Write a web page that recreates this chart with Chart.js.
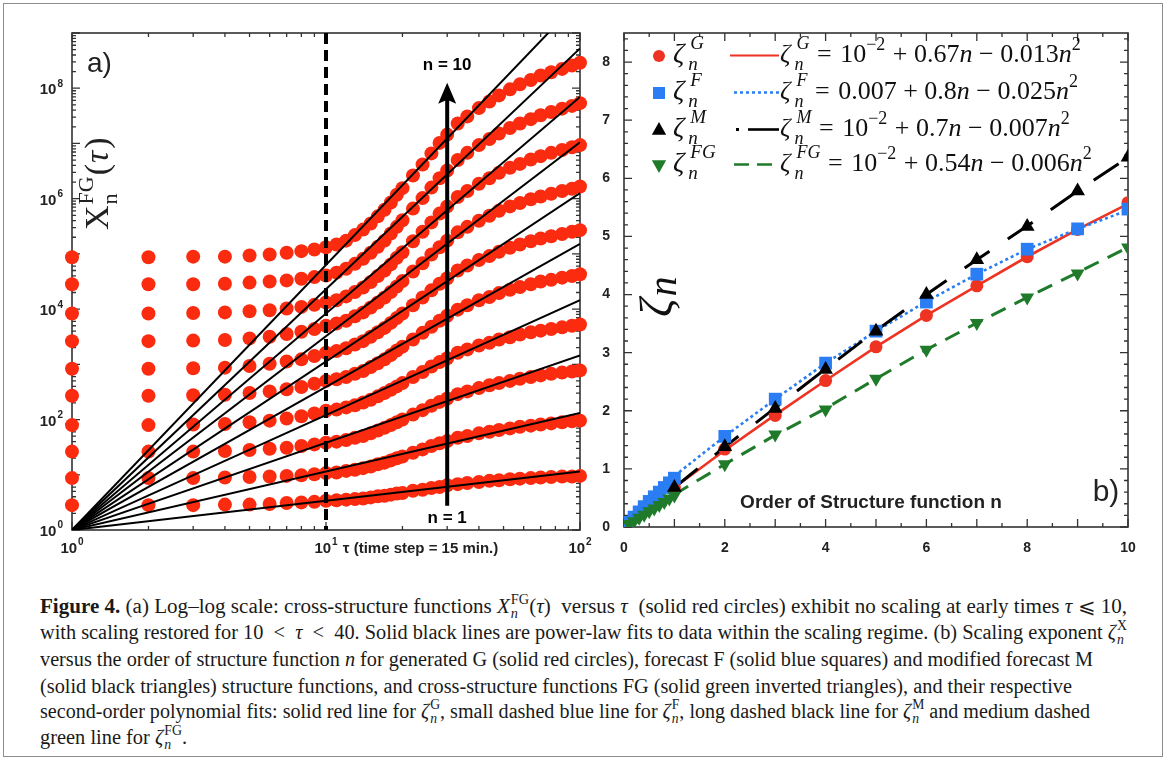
<!DOCTYPE html>
<html>
<head>
<meta charset="utf-8">
<script src="https://cdn.jsdelivr.net/npm/chart.js@4.4.0/dist/chart.umd.min.js"></script>
<style>
  html, body { margin: 0; padding: 0; background: #fff; }
  #fig { position: relative; width: 1168px; height: 762px; overflow: hidden; }
  #frame { position: absolute; left: 3px; top: 3px; width: 1158px; height: 752px; border: 1px solid #8c8c8c; }
  #boxA { position: absolute; left: 0; top: 0; width: 600px; height: 570px; }
  #boxB { position: absolute; left: 600px; top: 0; width: 568px; height: 570px; }
  .cl { position: absolute; left: 40px; white-space: nowrap; width: max-content; transform-origin: 0 50%;
        font-family: "Liberation Serif", "DejaVu Serif", serif; font-size: 20px; line-height: 26px; color: #1a1a1a; }
  .ss { display: inline-block; vertical-align: -0.36em; font-size: 0.68em; line-height: 1.02em; text-align: left; margin-left: 1px; }
  .ss > span { display: block; }
</style>
</head>
<body>
<div id="fig">
  <div id="frame"></div>
  <div id="boxA"><canvas id="chartA" width="600" height="570"></canvas></div>
  <div id="boxB"><canvas id="chartB" width="568" height="570"></canvas></div>

  <div class="cl" style="top:593px"><b>Figure 4.</b> (a) Log–log scale: cross-structure functions <i>X</i><span class="ss"><span>FG</span><span><i>n</i></span></span>(<i>τ</i>)&nbsp; versus <i>τ</i>&nbsp; (solid red circles) exhibit no scaling at early times <i>τ</i> ⩽ 10,</div>
  <div class="cl" style="top:619px">with scaling restored for 10 &nbsp;&lt;&nbsp; <i>τ</i> &nbsp;&lt;&nbsp; 40. Solid black lines are power-law fits to data within the scaling regime. (b) Scaling exponent <i>ζ</i><span class="ss"><span>X</span><span><i>n</i></span></span></div>
  <div class="cl" style="top:646px">versus the order of structure function <i>n</i> for generated G (solid red circles), forecast F (solid blue squares) and modified forecast M</div>
  <div class="cl" style="top:673px">(solid black triangles) structure functions, and cross-structure functions FG (solid green inverted triangles), and their respective</div>
  <div class="cl" style="top:698px">second-order polynomial fits: solid red line for <i>ζ</i><span class="ss"><span>G</span><span><i>n</i></span></span>, small dashed blue line for <i>ζ</i><span class="ss"><span>F</span><span><i>n</i></span></span>, long dashed black line for <i>ζ</i><span class="ss"><span>M</span><span><i>n</i></span></span> and medium dashed</div>
  <div class="cl" style="top:724px">green line for <i>ζ</i><span class="ss"><span>FG</span><span><i>n</i></span></span>.</div>
</div>

<script>
// ---- panel a: cross-structure functions, stored as log10 of X_n(tau) ----
const TAU = [1,2,3,4,5,6,7,8,9,10,11,12,13,14,15,16,17,18,19,20,22,24,26,28,30,33,36,40,44,48,53,58,64,70,77,85,93,100];

const LOG_X1  = [.45,.45,.45,.46,.46,.47,.49,.50,.51,.53,.54,.55,.56,.57,.59,.61,.62,.64,.66,.67,.71,.73,.76,.78,.81,.83,.85,.87,.89,.90,.92,.93,.94,.95,.96,.97,.97,.98];
const LOG_X2  = [.94,.94,.94,.95,.96,.97,.98,.99,1.01,1.03,1.04,1.07,1.09,1.12,1.15,1.19,1.22,1.26,1.30,1.33,1.40,1.46,1.52,1.57,1.61,1.67,1.70,1.75,1.78,1.81,1.84,1.87,1.89,1.91,1.93,1.95,1.97,1.98];
const LOG_X3  = [1.42,1.42,1.42,1.43,1.45,1.47,1.49,1.52,1.55,1.58,1.60,1.63,1.67,1.70,1.75,1.80,1.85,1.90,1.95,2.00,2.09,2.17,2.25,2.32,2.38,2.46,2.51,2.57,2.62,2.66,2.70,2.74,2.77,2.80,2.83,2.85,2.87,2.89];
const LOG_X4  = [1.90,1.90,1.91,1.92,1.95,1.98,2.02,2.06,2.11,2.16,2.18,2.22,2.26,2.31,2.36,2.42,2.48,2.54,2.60,2.66,2.77,2.86,2.96,3.04,3.11,3.21,3.27,3.34,3.39,3.45,3.49,3.54,3.58,3.61,3.64,3.67,3.70,3.72];
const LOG_X5  = [2.43,2.43,2.44,2.45,2.48,2.51,2.55,2.59,2.65,2.70,2.73,2.77,2.83,2.88,2.95,3.02,3.09,3.17,3.25,3.32,3.45,3.57,3.68,3.79,3.88,3.99,4.07,4.16,4.22,4.29,4.35,4.40,4.45,4.50,4.53,4.57,4.60,4.63];
const LOG_X6  = [2.92,2.92,2.93,2.94,2.97,3.01,3.05,3.09,3.15,3.21,3.24,3.29,3.36,3.42,3.50,3.58,3.66,3.75,3.84,3.92,4.07,4.21,4.34,4.46,4.56,4.70,4.79,4.89,4.96,5.04,5.11,5.17,5.23,5.28,5.32,5.36,5.40,5.43];
const LOG_X7  = [3.42,3.42,3.43,3.44,3.47,3.50,3.55,3.59,3.64,3.70,3.74,3.79,3.87,3.94,4.03,4.12,4.21,4.31,4.41,4.51,4.68,4.83,4.99,5.12,5.24,5.39,5.49,5.60,5.69,5.78,5.86,5.92,5.99,6.04,6.09,6.14,6.18,6.22];
const LOG_X8  = [3.92,3.92,3.93,3.94,3.96,3.98,4.01,4.04,4.08,4.12,4.16,4.23,4.31,4.39,4.49,4.60,4.70,4.81,4.93,5.03,5.23,5.40,5.57,5.73,5.86,6.03,6.14,6.27,6.37,6.47,6.56,6.63,6.71,6.77,6.83,6.88,6.93,6.97];
const LOG_X9  = [4.45,4.45,4.45,4.46,4.48,4.50,4.52,4.55,4.58,4.61,4.66,4.73,4.82,4.91,5.02,5.13,5.24,5.37,5.49,5.61,5.82,6.01,6.20,6.37,6.51,6.70,6.83,6.97,7.08,7.18,7.28,7.36,7.44,7.51,7.57,7.63,7.68,7.73];
const LOG_X10 = [4.94,4.94,4.95,4.95,4.97,4.99,5.02,5.05,5.08,5.12,5.17,5.24,5.34,5.44,5.55,5.68,5.80,5.93,6.07,6.19,6.42,6.62,6.82,7.01,7.16,7.36,7.49,7.64,7.76,7.87,7.98,8.07,8.15,8.23,8.29,8.35,8.41,8.46];

// power-law fits through (1,1): log10 of the fit at tau = 100
const FIT_LOG_AT_100 = [1.06, 2.12, 3.16, 4.16, 5.18, 6.10, 7.02, 7.84, 8.72, 9.60];

const A_X_TICK_EXP = [0, 1, 2];
const A_Y_TICK_EXP = [0, 2, 4, 6, 8];
const A_X_LABEL_TAIL = ' τ (time step = 15 min.)';
const ARROW_TAU = 30, ARROW_LOG_FROM = 0.44, ARROW_LOG_TO = 8.1;
const SCALING_EDGE = 10;

// ---- panel b: scaling exponents ----
const N_FINE = [0.1,0.2,0.3,0.4,0.5,0.6,0.7,0.8,0.9,1,2,3,4,5,6,7,8,9,10];
const N_INT  = [1,2,3,4,5,6,7,8,9,10];
const ZETA_G  = [0.68,1.34,1.92,2.52,3.10,3.64,4.15,4.65,5.12,5.58];
const ZETA_F  = [0.08,0.17,0.26,0.35,0.44,0.52,0.60,0.68,0.76,0.84,1.56,2.20,2.82,3.37,3.87,4.35,4.78,5.13,5.47];
const ZETA_M  = [0.68,1.38,2.04,2.71,3.37,4.00,4.60,5.17,5.78,6.36];
const ZETA_FG = [0.05,0.10,0.16,0.21,0.27,0.32,0.38,0.43,0.49,0.54,1.08,1.59,2.02,2.55,3.05,3.51,3.95,4.36,4.81];
const FIT_G  = [0.68,1.32,1.93,2.52,3.10,3.64,4.15,4.65,5.12,5.56];
const FIT_F  = [0.88,1.56,2.20,2.82,3.37,3.88,4.35,4.78,5.13,5.45];
const FIT_M  = [0.68,1.38,2.05,2.72,3.38,4.00,4.60,5.18,5.78,6.36];
const FIT_FG = [0.56,1.08,1.58,2.04,2.55,3.05,3.51,3.95,4.38,4.81];

const RED_A = '#fb2b10';
const RED = '#ee3322', BLUE = '#2a7df2', GREEN = '#1f7a2a';
const SANS = '"Liberation Sans", Arial, sans-serif';
const SERIF = '"Liberation Serif", "DejaVu Serif", serif';

Chart.defaults.font.family = SANS;
Chart.defaults.animation = false;

// text followed by a superscript
function textSup(ctx, base, sup, x, y, size, align) {
  ctx.font = `bold ${size}px ${SANS}`;
  const wb = ctx.measureText(base).width;
  ctx.font = `bold ${Math.round(size * 0.68)}px ${SANS}`;
  const ws = ctx.measureText(sup).width;
  let x0 = x;
  if (align === 'right') x0 = x - wb - ws - 1;
  if (align === 'center') x0 = x - (wb + ws + 1) / 2;
  ctx.textAlign = 'left';
  ctx.font = `bold ${size}px ${SANS}`;
  ctx.fillText(base, x0, y);
  ctx.font = `bold ${Math.round(size * 0.68)}px ${SANS}`;
  ctx.fillText(sup, x0 + wb + 1, y - size * 0.42);
  return x0 + wb + ws + 1;
}

// math run: items are {t, f} or {sup, sub, f} stacked scripts
function mathRun(ctx, x, y, items) {
  ctx.textAlign = 'left';
  for (const it of items) {
    ctx.font = it.f;
    if (it.sup !== undefined || it.sub !== undefined) {
      const dx = it.supDx || 0;
      const w1 = it.sup ? ctx.measureText(it.sup).width : 0;
      const w2 = it.sub ? ctx.measureText(it.sub).width : 0;
      if (it.sup) ctx.fillText(it.sup, x + dx, y - (it.up || 11));
      if (it.sub) ctx.fillText(it.sub, x, y + (it.down || 7));
      x += Math.max(w1 + dx, w2) + 1;
    } else {
      ctx.fillText(it.t, x, y + (it.dy || 0));
      x += ctx.measureText(it.t).width + (it.gap || 0);
    }
  }
  return x;
}

function inwardTicks(ctx, a, xs, ys, xPix, yPix, majorX, majorY) {
  ctx.beginPath();
  xs.forEach(v => {
    const p = xPix(v), L = majorX(v) ? 8 : 4;
    ctx.moveTo(p, a.bottom); ctx.lineTo(p, a.bottom - L);
    ctx.moveTo(p, a.top); ctx.lineTo(p, a.top + L);
  });
  ys.forEach(v => {
    const p = yPix(v), L = majorY(v) ? 8 : 4;
    ctx.moveTo(a.left, p); ctx.lineTo(a.left + L, p);
    ctx.moveTo(a.right, p); ctx.lineTo(a.right - L, p);
  });
  ctx.stroke();
}

// ---------------- panel a ----------------
const seriesA = [LOG_X1, LOG_X2, LOG_X3, LOG_X4, LOG_X5, LOG_X6, LOG_X7, LOG_X8, LOG_X9, LOG_X10];
const dotSets = seriesA.map(s => ({
  data: s.map((v, i) => ({ x: TAU[i], y: Math.pow(10, v) })),
  pointRadius: 7, pointBackgroundColor: RED_A, pointBorderWidth: 0,
  showLine: false, clip: false, order: 2
}));
const fitSets = FIT_LOG_AT_100.map(v => ({
  data: [{ x: TAU[0], y: 1 }, { x: TAU[TAU.length - 1], y: Math.pow(10, v) }],
  showLine: true, borderColor: '#000', borderWidth: 2, pointRadius: 0, order: 1
}));

const panelA = {
  id: 'panelA',
  beforeDatasetsDraw(chart) {
    const { ctx, chartArea: a, scales: { x, y } } = chart;
    ctx.save();
    ctx.strokeStyle = '#333'; ctx.lineWidth = 1.3;
    const xs = [], ys = [];
    for (let d = 0; d < 2; d++) for (let k = 1; k <= 9; k++) xs.push(k * Math.pow(10, d));
    xs.push(100);
    for (let d = 0; d < 9; d++) for (let k = 1; k <= 9; k++) ys.push(k * Math.pow(10, d));
    ys.push(1e9);
    const isDec = v => Math.abs(Math.log10(v) - Math.round(Math.log10(v))) < 1e-9;
    inwardTicks(ctx, a, xs, ys, v => x.getPixelForValue(v), v => y.getPixelForValue(v), isDec, isDec);
    ctx.lineWidth = 1.6; ctx.strokeStyle = '#333';
    ctx.strokeRect(a.left, a.top, a.right - a.left, a.bottom - a.top);

    // tick labels
    ctx.fillStyle = '#222'; ctx.textBaseline = 'middle';
    A_Y_TICK_EXP.forEach(e => textSup(ctx, '10', String(e), a.left - 9, y.getPixelForValue(Math.pow(10, e)) + 2, 15, 'right'));
    A_X_TICK_EXP.forEach(e => {
      const px = x.getPixelForValue(Math.pow(10, e));
      const end = textSup(ctx, '10', String(e), px, a.bottom + 19, 15, 'center');
      if (e === 1) { ctx.font = `bold 15px ${SANS}`; ctx.fillText(A_X_LABEL_TAIL, end + 1, a.bottom + 19); }
    });
    ctx.restore();
  },
  afterDatasetsDraw(chart) {
    const { ctx, chartArea: a, scales: { x, y } } = chart;
    ctx.save();
    // end of the non-scaling regime
    const xd = x.getPixelForValue(SCALING_EDGE);
    ctx.strokeStyle = '#000'; ctx.lineWidth = 4; ctx.setLineDash([11, 6]);
    ctx.beginPath(); ctx.moveTo(xd, a.top); ctx.lineTo(xd, a.bottom); ctx.stroke();
    ctx.setLineDash([]);

    // arrow n = 1 -> n = 10
    const xa = x.getPixelForValue(ARROW_TAU);
    const y0 = y.getPixelForValue(Math.pow(10, ARROW_LOG_FROM));
    const y1 = y.getPixelForValue(Math.pow(10, ARROW_LOG_TO));
    ctx.lineWidth = 4;
    ctx.beginPath(); ctx.moveTo(xa, y0); ctx.lineTo(xa, y1 + 16); ctx.stroke();
    ctx.fillStyle = '#000';
    ctx.beginPath(); ctx.moveTo(xa, y1); ctx.lineTo(xa - 9, y1 + 21); ctx.lineTo(xa, y1 + 17); ctx.lineTo(xa + 9, y1 + 21); ctx.closePath(); ctx.fill();

    ctx.font = `bold 17px ${SANS}`; ctx.textAlign = 'center'; ctx.textBaseline = 'middle';
    ctx.fillText('n = 10', xa, y.getPixelForValue(Math.pow(10, 8.42)));
    ctx.fillText('n = 1', xa, y.getPixelForValue(Math.pow(10, 0.22)));

    ctx.textAlign = 'left'; ctx.font = `28px ${SANS}`; ctx.fillStyle = '#222';
    ctx.fillText('a)', a.left + 15, a.top + 31);

    // rotated y title X_n^FG(tau)
    ctx.save();
    ctx.translate(a.left + 36, a.top + 197);
    ctx.rotate(-Math.PI / 2);
    ctx.fillStyle = '#222'; ctx.textBaseline = 'alphabetic';
    mathRun(ctx, 0, 0, [
      { t: 'X', f: `34px ${SERIF}`, gap: 1 },
      { sup: 'FG', sub: 'n', f: `22px ${SERIF}`, up: 15, down: 9 },
      { t: '(', f: `34px ${SERIF}`, gap: 1 },
      { t: 'τ', f: `italic 34px ${SERIF}`, gap: 2 },
      { t: ')', f: `34px ${SERIF}` }
    ]);
    ctx.restore();
    ctx.restore();
  }
};

new Chart(document.getElementById('chartA'), {
  type: 'scatter',
  data: { datasets: [...fitSets, ...dotSets] },
  options: {
    responsive: false,
    layout: { padding: { left: 72, right: 20, top: 33, bottom: 40 } },
    plugins: { legend: { display: false }, tooltip: { enabled: false } },
    scales: {
      x: { type: 'logarithmic', min: 1, max: 100, display: false },
      y: { type: 'logarithmic', min: 1, max: 1e9, display: false }
    }
  },
  plugins: [panelA]
});

// ---------------- panel b ----------------
const pts = (xs, ys) => ys.map((v, i) => ({ x: xs[i], y: v }));
const LEGEND_ROWS = [
  { sym: 'G',  c0: ['10', '−2'], c1: '0.67', c2: '0.013', color: RED,   style: 'circle',   dash: [] },
  { sym: 'F',  c0: ['0.007', ''], c1: '0.8', c2: '0.025', color: BLUE,  style: 'rect',     dash: [3, 3] },
  { sym: 'M',  c0: ['10', '−2'], c1: '0.7',  c2: '0.007', color: '#000', style: 'triangle', dash: [] },
  { sym: 'FG', c0: ['10', '−2'], c1: '0.54', c2: '0.006', color: GREEN, style: 'triangle', rot: 180, dash: [15, 8] }
];

function marker(ctx, style, x, y, r, rot, color) {
  ctx.fillStyle = color;
  ctx.beginPath();
  if (style === 'circle') ctx.arc(x, y, r, 0, Math.PI * 2);
  else if (style === 'rect') ctx.rect(x - r * 0.75, y - r * 0.75, r * 1.5, r * 1.5);
  else {
    const s = rot ? -1 : 1;
    ctx.moveTo(x, y - s * r); ctx.lineTo(x - r * 0.9, y + s * r * 0.6); ctx.lineTo(x + r * 0.9, y + s * r * 0.6);
    ctx.closePath();
  }
  ctx.fill();
}

const panelB = {
  id: 'panelB',
  beforeDatasetsDraw(chart) {
    const { ctx, chartArea: a, scales: { x, y } } = chart;
    ctx.save();
    ctx.strokeStyle = '#333'; ctx.lineWidth = 1.3;
    const xs = [], ys = [];
    for (let i = 0; i <= 20; i++) xs.push(i * 0.5);
    for (let i = 0; i <= 42; i++) ys.push(i * 0.2);
    const isInt = v => Math.abs(v - Math.round(v)) < 1e-6;
    inwardTicks(ctx, a, xs, ys, v => x.getPixelForValue(v), v => y.getPixelForValue(v), isInt, isInt);
    ctx.lineWidth = 1.6;
    ctx.strokeRect(a.left, a.top, a.right - a.left, a.bottom - a.top);
    ctx.restore();
  },
  afterDatasetsDraw(chart) {
    const { ctx, chartArea: a } = chart;
    ctx.save();
    ctx.textBaseline = 'alphabetic';
    const base = [62, 99, 136, 171];
    LEGEND_ROWS.forEach((r, i) => {
      const by = base[i];
      marker(ctx, r.style, 59, by - 6, r.style === 'rect' ? 8 : (r.style === 'circle' ? 6 : 8), r.rot, r.color);
      ctx.fillStyle = '#111';
      mathRun(ctx, 73, by, [
        { t: 'ζ', f: `italic 28px ${SERIF}`, gap: 4 },
        { sup: r.sym, sub: 'n', f: `italic 19px ${SERIF}`, up: 13, down: 8, supDx: 2 }
      ]);
      // sample line
      ctx.strokeStyle = r.color; ctx.lineWidth = r.sym === 'G' ? 2 : 2.6;
      ctx.setLineDash(r.dash);
      ctx.beginPath();
      if (r.sym === 'M') {
        ctx.fillStyle = '#000'; ctx.fillRect(136, by - 8, 3, 3);
        ctx.moveTo(148, by - 6.5); ctx.lineTo(179, by - 6.5);
      } else {
        ctx.moveTo(r.sym === 'G' ? 130 : 134, by - 6.5); ctx.lineTo(179, by - 6.5);
      }
      ctx.stroke(); ctx.setLineDash([]);
      ctx.fillStyle = '#111';
      const R = `26px ${SERIF}`, I = `italic 26px ${SERIF}`, S = `18px ${SERIF}`;
      const items = [
        { t: 'ζ', f: I, gap: 4 },
        { sup: r.sym, sub: 'n', f: `italic 18px ${SERIF}`, up: 13, down: 8, supDx: 2 },
        { t: ' = ', f: R, gap: 2 },
        { t: r.c0[0], f: R }
      ];
      if (r.c0[1]) items.push({ t: r.c0[1], f: S, dy: -12, gap: 1 });
      items.push({ t: ' + ' + r.c1, f: R }, { t: 'n', f: I }, { t: ' − ' + r.c2, f: R }, { t: 'n', f: I }, { t: '2', f: S, dy: -12 });
      mathRun(ctx, 180, by, items);
    });

    // y title
    ctx.save();
    ctx.translate(a.left + 48, a.top + 284);
    ctx.rotate(-Math.PI / 2);
    ctx.fillStyle = '#111';
    mathRun(ctx, 0, 0, [{ t: 'ζ', f: `italic 46px ${SERIF}`, gap: 2 }, { t: 'n', f: `italic 40px ${SERIF}`, dy: 4 }]);
    ctx.restore();

    ctx.fillStyle = '#222';
    ctx.font = `bold 19px ${SANS}`; ctx.textAlign = 'center'; ctx.textBaseline = 'middle';
    ctx.fillText('Order of Structure function n', 271, 503);
    ctx.font = `30px ${SANS}`;
    ctx.fillText('b)', 506, 493);
    ctx.restore();
  }
};

new Chart(document.getElementById('chartB'), {
  type: 'scatter',
  data: {
    datasets: [
      { data: pts(N_INT, ZETA_M), pointStyle: 'triangle', pointRadius: 8.5, pointBackgroundColor: '#000', pointBorderWidth: 0, order: 1 },
      { data: pts(N_FINE, ZETA_FG), pointStyle: 'triangle', rotation: 180, pointRadius: 8, pointBackgroundColor: GREEN, pointBorderWidth: 0, order: 2 },
      { data: pts(N_FINE, ZETA_F), pointStyle: 'rect', pointRadius: 9, pointBackgroundColor: BLUE, pointBorderWidth: 0, order: 3 },
      { data: pts(N_INT, ZETA_G), pointStyle: 'circle', pointRadius: 6.5, pointBackgroundColor: RED, pointBorderWidth: 0, order: 4 },
      { data: pts(N_INT, FIT_M), showLine: true, pointRadius: 0, borderColor: '#000', borderWidth: 3, borderDash: [30, 22], order: 5 },
      { data: pts(N_INT, FIT_FG), showLine: true, pointRadius: 0, borderColor: GREEN, borderWidth: 3, borderDash: [16, 10], order: 6 },
      { data: pts(N_INT, FIT_F), showLine: true, pointRadius: 0, borderColor: BLUE, borderWidth: 2.6, borderDash: [3, 3], order: 7 },
      { data: pts(N_INT, FIT_G), showLine: true, pointRadius: 0, borderColor: RED, borderWidth: 2.6, order: 8 }
    ]
  },
  options: {
    responsive: false,
    layout: { padding: { left: 0, right: 40, top: 33, bottom: 0 } },
    plugins: { legend: { display: false }, tooltip: { enabled: false } },
    scales: {
      x: {
        type: 'linear', min: 0, max: 10,
        grid: { display: false }, border: { display: false },
        ticks: { stepSize: 2, color: '#222', padding: 5, font: { size: 14, weight: 'bold' } },
        afterFit: s => { s.height = 43; }
      },
      y: {
        type: 'linear', min: 0, max: 8.5,
        grid: { display: false }, border: { display: false },
        ticks: { stepSize: 1, color: '#222', padding: 6, font: { size: 14, weight: 'bold' },
                 callback: v => Number.isInteger(v) ? v : '' },
        afterFit: s => { s.width = 24; }
      }
    }
  },
  plugins: [panelB]
});

// fit caption lines to the printed widths
const CAPTION_WIDTHS = [1087, 1087, 1053, 1032, 1050];
const lines = document.querySelectorAll('.cl');
const ks = [];
lines.forEach((el, i) => {
  const w = el.getBoundingClientRect().width;
  if (CAPTION_WIDTHS[i]) { const k = CAPTION_WIDTHS[i] / w; ks.push(k); el.style.transform = `scaleX(${k})`; }
});
const kAvg = ks.reduce((s, k) => s + k, 0) / ks.length;
lines[lines.length - 1].style.transform = `scaleX(${kAvg})`;
</script>
</body>
</html>
